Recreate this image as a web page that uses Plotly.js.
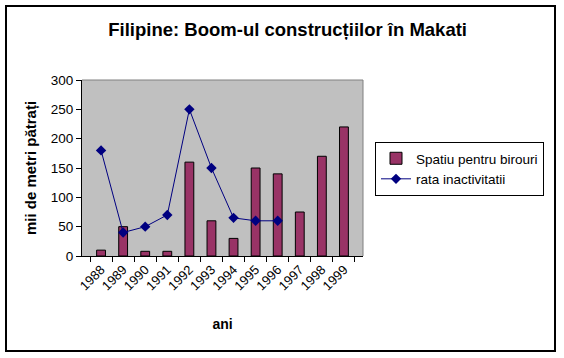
<!DOCTYPE html>
<html><head><meta charset="utf-8">
<script src="https://cdn.plot.ly/plotly-3.0.1.min.js"></script>
<style>html,body{margin:0;padding:0;background:#fff;}#chart{width:564px;height:358px;}</style>
</head><body><div id="chart"></div>
<script>
const years = ['1988','1989','1990','1991','1992','1993','1994','1995','1996','1997','1998','1999'];
const spatiuBirouri = [10, 50, 8, 8, 160, 60, 30, 150, 140, 75, 170, 220];
const rataInactivitatii = [180, 40, 50, 70, 250, 150, 65, 60, 60, null, null, null];
const yTicks = [0, 50, 100, 150, 200, 250, 300];

const W = 564, H = 358, L = 82, R = 201, T = 80, B = 102;
const pw = W - L - R, ph = H - T - B;
const px = v => (v - L) / pw;
const py = v => (H - B - v) / ph;

const data = [
  {type:'bar', x: years, y: spatiuBirouri, name:'Spatiu pentru birouri',
   marker:{color:'#993366', line:{color:'#000', width:1}}},
  {type:'scatter', mode:'lines+markers', x: years, y: rataInactivitatii, name:'rata inactivitatii',
   line:{color:'#000080', width:1}, marker:{symbol:'diamond', size:8, color:'#000080'}}
];
const layout = {
  width: W, height: H,
  margin:{l:L, r:R, t:T, b:B, pad:0},
  paper_bgcolor:'#fff', plot_bgcolor:'#c0c0c0',
  bargap: 0.6,
  font:{family:'Arial, Liberation Sans, sans-serif', size:13, color:'#000'},
  title:{text:'<b>Filipine: Boom-ul construcțiilor în Makati</b>', font:{size:18.5, color:'#000'}, x: 0.51, xref:'container', xanchor:'center', y: 1-30/H, yanchor:'middle'},
  xaxis:{type:'category', showgrid:false, showline:true, linecolor:'#000', linewidth:1, mirror:false,
    ticks:'outside', tickson:'boundaries', ticklen:5, tickcolor:'#000', tickangle:-45,
    tickfont:{size:13}, title:{text:'<b>ani</b>', font:{size:14}, standoff: 26}, zeroline:false},
  yaxis:{range:[0,300], tickvals: yTicks, showgrid:false, showline:true, linecolor:'#000', linewidth:1,
    ticks:'outside', ticklen:5, tickcolor:'#000', tickfont:{size:13.5}, zeroline:false,
    title:{text:'<b>mii de metri pătrați</b>', font:{size:15}, standoff: 10}},
  legend:{x: px(375), y: py(142), xanchor:'left', yanchor:'top', bgcolor:'#fff', bordercolor:'#000', borderwidth:1,
    font:{size:13.5}, tracegroupgap: 0, itemwidth: 30},
  shapes:[
    {type:'line', xref:'paper', yref:'paper', x0:1, x1:1, y0:0, y1:1, line:{color:'#808080', width:1}},
    {type:'line', xref:'paper', yref:'paper', x0:0, x1:1, y0:1, y1:1, line:{color:'#808080', width:1}},
    {type:'rect', xref:'paper', yref:'paper', x0:px(6), x1:px(555), y0:py(6), y1:py(351), line:{color:'#000', width:2}, fillcolor:'rgba(0,0,0,0)', layer:'above'}
  ],
  showlegend:true
};
Plotly.newPlot('chart', data, layout, {staticPlot:true, displayModeBar:false});
</script></body></html>
